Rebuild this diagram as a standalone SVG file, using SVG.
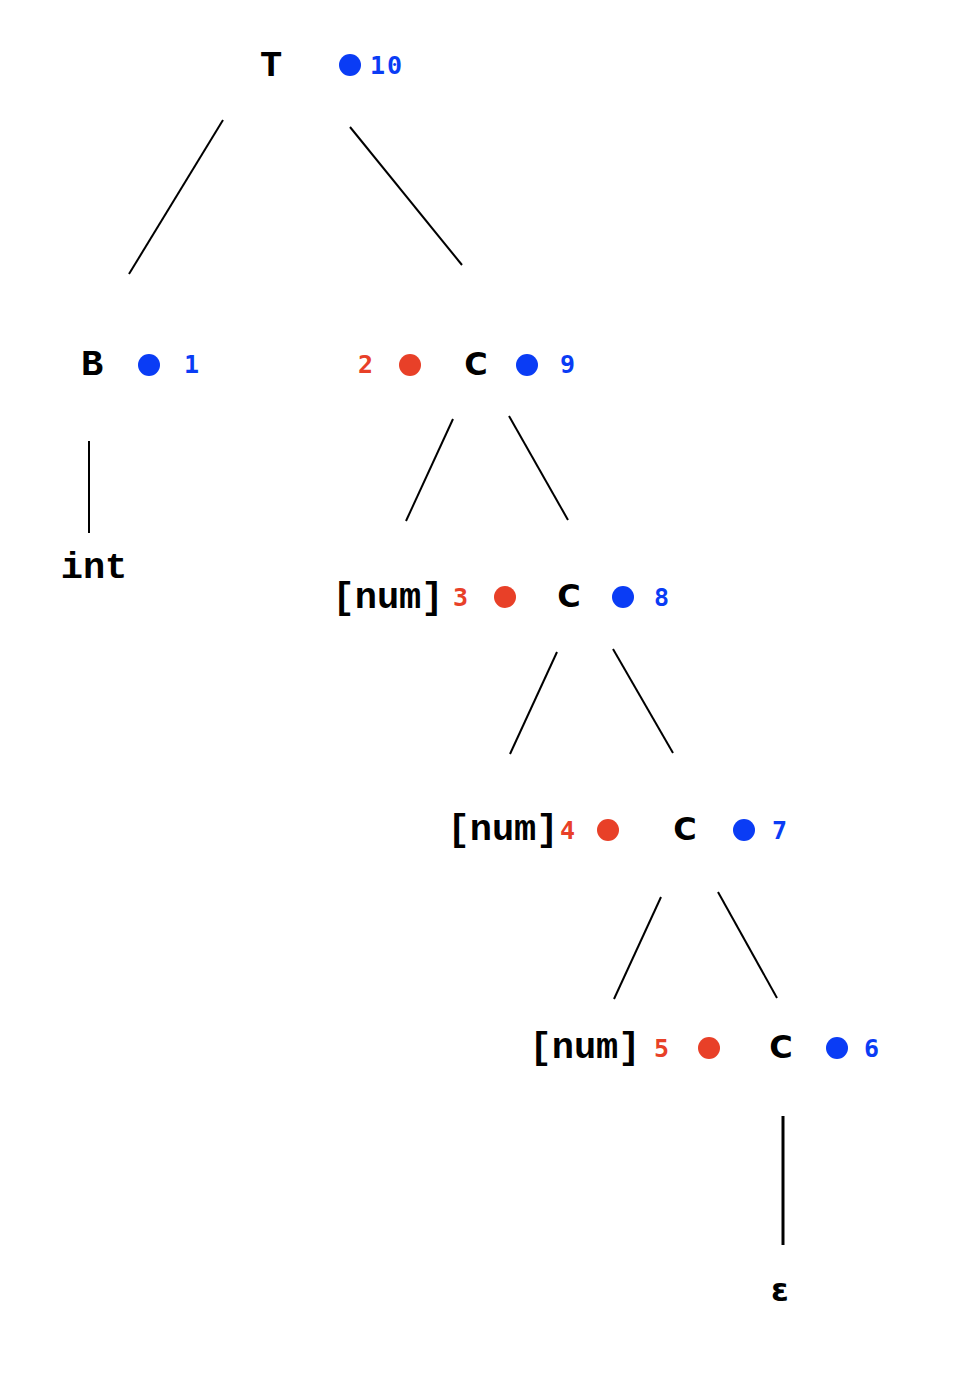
<svg xmlns="http://www.w3.org/2000/svg" width="954" height="1392" viewBox="0 0 954 1392">
<style>
.m{font-family:"Liberation Mono","Courier New",monospace;font-weight:bold;font-size:37px;fill:#000}
.c{font-family:"DejaVu Sans","Liberation Sans",sans-serif;font-weight:bold;font-size:32px;fill:#000;text-anchor:middle}
.nb{font-family:"DejaVu Sans Mono","Liberation Mono",monospace;font-weight:bold;font-size:25px;fill:#0a3cf5;letter-spacing:2px}
.nr{font-family:"DejaVu Sans Mono","Liberation Mono",monospace;font-weight:bold;font-size:25px;fill:#e84028}
.b{fill:#0a3cf5}
.r{fill:#e84028}
.e{stroke:#000;stroke-width:2;fill:none}
</style>
<rect width="954" height="1392" fill="#fff"/>
<g id="connectors">
<line class="e" x1="223" y1="120" x2="129" y2="274"/>
<line class="e" x1="350" y1="127" x2="462" y2="265"/>
<line class="e" x1="89" y1="441" x2="89" y2="533"/>
<line class="e" x1="453" y1="419" x2="406" y2="521"/>
<line class="e" x1="509" y1="416" x2="568" y2="520"/>
<line class="e" x1="557" y1="652" x2="510" y2="754"/>
<line class="e" x1="613" y1="649" x2="673" y2="753"/>
<line class="e" x1="661" y1="897" x2="614" y2="999"/>
<line class="e" x1="718" y1="892" x2="777" y2="998"/>
<line class="e" x1="783" y1="1116" x2="783" y2="1245" style="stroke-width:3"/>
</g>
<g id="nT">
<text class="m" x="271" y="76" text-anchor="middle">T</text>
<circle class="b" cx="350" cy="65" r="11"/>
<text class="nb" x="370" y="74">10</text>
</g>
<g id="nB">
<text class="m" x="92" y="375" text-anchor="middle">B</text>
<circle class="b" cx="149" cy="365" r="11"/>
<text class="nb" x="184" y="373">1</text>
</g>
<g id="nInt">
<text class="m" x="94" y="578" text-anchor="middle">int</text>
</g>
<g id="nC1">
<text class="nr" x="358" y="373">2</text>
<circle class="r" cx="410" cy="365" r="11"/>
<text class="c" x="476" y="375">C</text>
<circle class="b" cx="527" cy="365" r="11"/>
<text class="nb" x="560" y="373">9</text>
</g>
<g id="nC2">
<text class="m" x="388" y="608" text-anchor="middle">[num]</text>
<text class="nr" x="453" y="606">3</text>
<circle class="r" cx="505" cy="597" r="11"/>
<text class="c" x="569" y="607">C</text>
<circle class="b" cx="623" cy="597" r="11"/>
<text class="nb" x="654" y="606">8</text>
</g>
<g id="nC3">
<text class="m" x="503" y="840" text-anchor="middle">[num]</text>
<text class="nr" x="560" y="839">4</text>
<circle class="r" cx="608" cy="830" r="11"/>
<text class="c" x="685" y="840">C</text>
<circle class="b" cx="744" cy="830" r="11"/>
<text class="nb" x="772" y="839">7</text>
</g>
<g id="nC4">
<text class="m" x="585" y="1058" text-anchor="middle">[num]</text>
<text class="nr" x="654" y="1057">5</text>
<circle class="r" cx="709" cy="1048" r="11"/>
<text class="c" x="781" y="1058">C</text>
<circle class="b" cx="837" cy="1048" r="11"/>
<text class="nb" x="864" y="1057">6</text>
</g>
<g id="nEps">
<text class="c" x="780" y="1301">ε</text>
</g>
</svg>
